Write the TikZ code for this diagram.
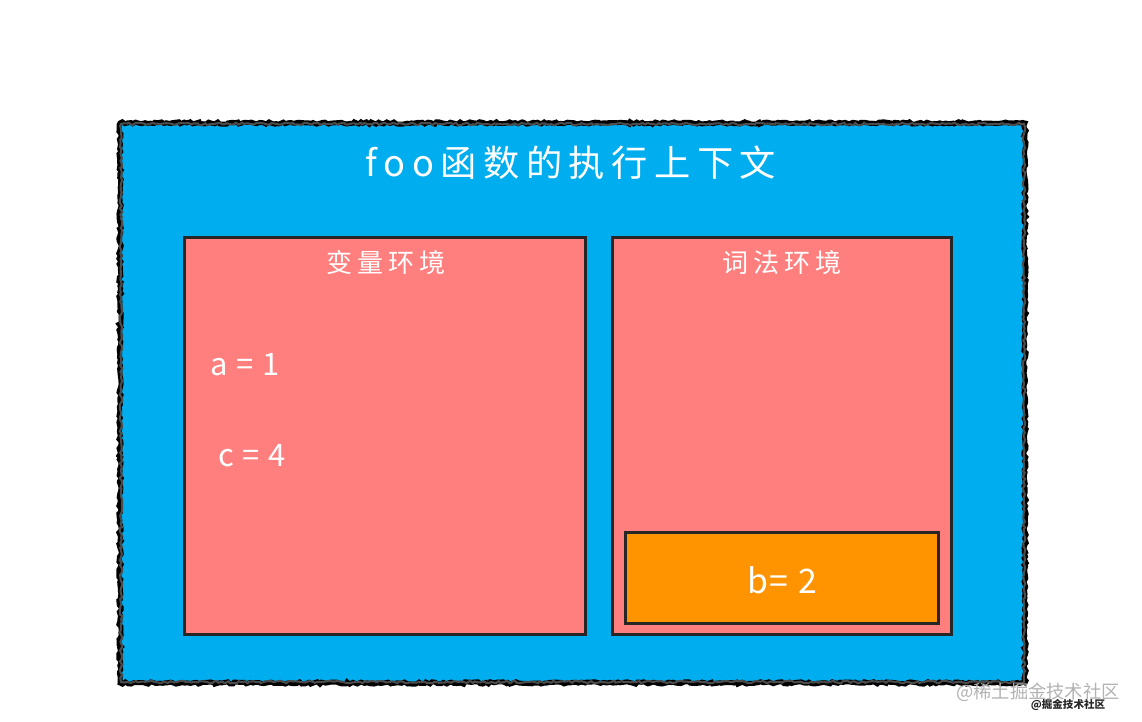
\documentclass[tikz,border=0pt]{standalone}
\usepackage{fontspec}
\setmainfont{Noto Sans CJK SC}[LetterSpace=18]
\newfontfamily\markfont{Noto Sans CJK SC}
\newfontfamily\valuefont{Noto Sans CJK SC}[LetterSpace=6]
\usetikzlibrary{positioning,decorations.pathmorphing}

\definecolor{ctxblue}{RGB}{0,173,239}
\definecolor{envpink}{RGB}{255,127,127}
\definecolor{recorange}{RGB}{255,147,0}

\tikzset{
  envbox/.style={draw=black!85, line width=0.85pt, fill=envpink, inner sep=0pt},
  recbox/.style={draw=black!85, line width=0.85pt, fill=recorange, inner sep=0pt},
  roughline/.style={draw=black, line width=1.4pt, decorate,
    decoration={random steps, segment length=0.8pt, amplitude=0.35pt}},
  whitetext/.style={text=white, inner sep=0pt}
}

\begin{document}
\begin{tikzpicture}[x=0.01cm,y=-0.01cm]
\useasboundingbox (0,0) rectangle (1142,722);

% execution context
\fill[ctxblue] (120,123) rectangle (1025,683);
\draw[roughline] (120,123) rectangle (1025,683);
\draw[roughline, line width=0.6pt, black!70] (121,124) rectangle (1024,682);
\node[whitetext, font=\fontsize{10.3}{12}\selectfont] (title) at (571,163) {foo函数的执行上下文};

% environments
\node[envbox, minimum width=4cm, minimum height=3.96cm] (varenv) at (385,436) {};
\node[envbox, minimum width=3.38cm, minimum height=3.96cm] (lexenv) at (782,436) {};
\node[recbox, minimum width=3.12cm, minimum height=0.9cm] (block) at (782,578) {};

\node[whitetext, font=\fontsize{7.4}{9}\selectfont] (varlabel) at (386,263) {变量环境};
\node[whitetext, font=\fontsize{7.4}{9}\selectfont] (lexlabel) at (782,263) {词法环境};

\node[whitetext, font=\valuefont\fontsize{8.8}{10}\selectfont] (vara) at (245,365) {a = 1};
\node[whitetext, font=\valuefont\fontsize{8.8}{10}\selectfont] (varc) at (252,456) {c = 4};
\node[whitetext, font=\valuefont\fontsize{9.6}{11}\selectfont] (varb) at (782,580) {b= 2};

% watermark
\node[text=black!30, inner sep=0pt, font=\markfont\fontsize{5.2}{6}\selectfont] (mark) at (1038,692) {@稀土掘金技术社区};
\node[text=black!85, inner sep=0pt, font=\markfont\bfseries\fontsize{3}{4}\selectfont] (submark) at (1068,705) {@掘金技术社区};
\end{tikzpicture}
\end{document}
